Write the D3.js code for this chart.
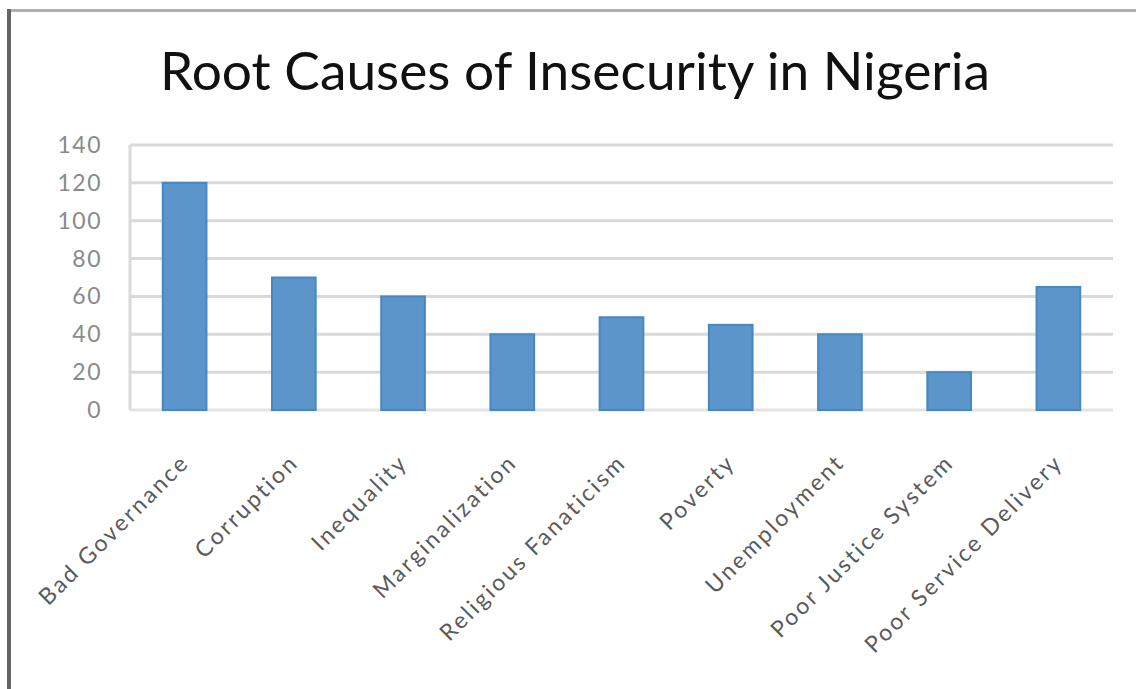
<!DOCTYPE html>
<html>
<head>
<meta charset="utf-8">
<script src="https://d3js.org/d3.v7.min.js"></script>
<style>
  body { margin: 0; background: #fff; }
  svg { display: block; }
</style>
</head>
<body>
<script>
var width = 1136, height = 689;

// chart data
var causes = ["Bad Governance", "Corruption", "Inequality", "Marginalization",
  "Religious Fanaticism", "Poverty", "Unemployment", "Poor Justice System",
  "Poor Service Delivery"];
var counts = [120, 70, 60, 40, 49, 45, 40, 20, 65];
var yTicks = [0, 20, 40, 60, 80, 100, 120, 140];

var margin = {top: 145, right: 23, bottom: 279, left: 130};

var svg = d3.select("body").append("svg")
    .attr("width", width)
    .attr("height", height)
    .style("font-family", "Lato, 'Open Sans', sans-serif");

svg.append("rect")
    .attr("width", width)
    .attr("height", height)
    .attr("fill", "#fff");

// frame: top and left edges of the pasted chart
svg.append("line")
    .attr("x1", 11).attr("x2", width)
    .attr("y1", 10.5).attr("y2", 10.5)
    .attr("stroke", "#b0b0b0")
    .attr("stroke-width", 3);
svg.append("line")
    .attr("x1", 9).attr("x2", 9)
    .attr("y1", 9).attr("y2", height)
    .attr("stroke", "#646464")
    .attr("stroke-width", 4);

var x = d3.scaleBand()
    .domain(causes)
    .range([margin.left, width - margin.right])
    .paddingInner(0.6)
    .paddingOuter(0.3);

var y = d3.scaleLinear()
    .domain([0, 140])
    .range([height - margin.bottom, margin.top]);

// gridlines
svg.append("g")
    .selectAll("line")
    .data(yTicks)
    .join("line")
    .attr("x1", margin.left)
    .attr("x2", width - margin.right)
    .attr("y1", d => y(d))
    .attr("y2", d => y(d))
    .attr("stroke", d => d === 0 ? "#e3e3e3" : "#d9d9d9")
    .attr("stroke-width", 3);

// left axis line
svg.append("line")
    .attr("x1", margin.left).attr("x2", margin.left)
    .attr("y1", y(140)).attr("y2", y(0))
    .attr("stroke", "#d9d9d9")
    .attr("stroke-width", 3);

// y tick labels
svg.append("g")
    .selectAll("text")
    .data(yTicks)
    .join("text")
    .attr("x", 102)
    .attr("y", d => y(d))
    .attr("dy", "0.35em")
    .attr("text-anchor", "end")
    .attr("fill", "#8a8a8a")
    .style("font-size", "23px")
    .style("letter-spacing", "1.5px")
    .text(d => d);

// bars
svg.append("g")
    .selectAll("rect")
    .data(counts)
    .join("rect")
    .attr("x", (d, i) => x(causes[i]))
    .attr("y", d => y(d))
    .attr("width", x.bandwidth())
    .attr("height", d => y(0) - y(d))
    .attr("fill", "#5b95c9")
    .attr("stroke", "#4787c4")
    .attr("stroke-width", 2);

// category labels
svg.append("g")
    .selectAll("text")
    .data(causes)
    .join("text")
    .attr("transform", d => `translate(${x(d) + x.bandwidth() / 2 + 6},${y(0) + 54}) rotate(-45)`)
    .attr("text-anchor", "end")
    .attr("fill", "#5a5a5a")
    .style("font-size", "23px")
    .style("letter-spacing", "2.5px")
    .text(d => d);

// title
svg.append("text")
    .attr("x", 575)
    .attr("y", 90)
    .attr("text-anchor", "middle")
    .attr("fill", "#111")
    .attr("textLength", 830)
    .attr("lengthAdjust", "spacingAndGlyphs")
    .style("font-size", "52px")
    .text("Root Causes of Insecurity in Nigeria");
</script>
</body>
</html>
